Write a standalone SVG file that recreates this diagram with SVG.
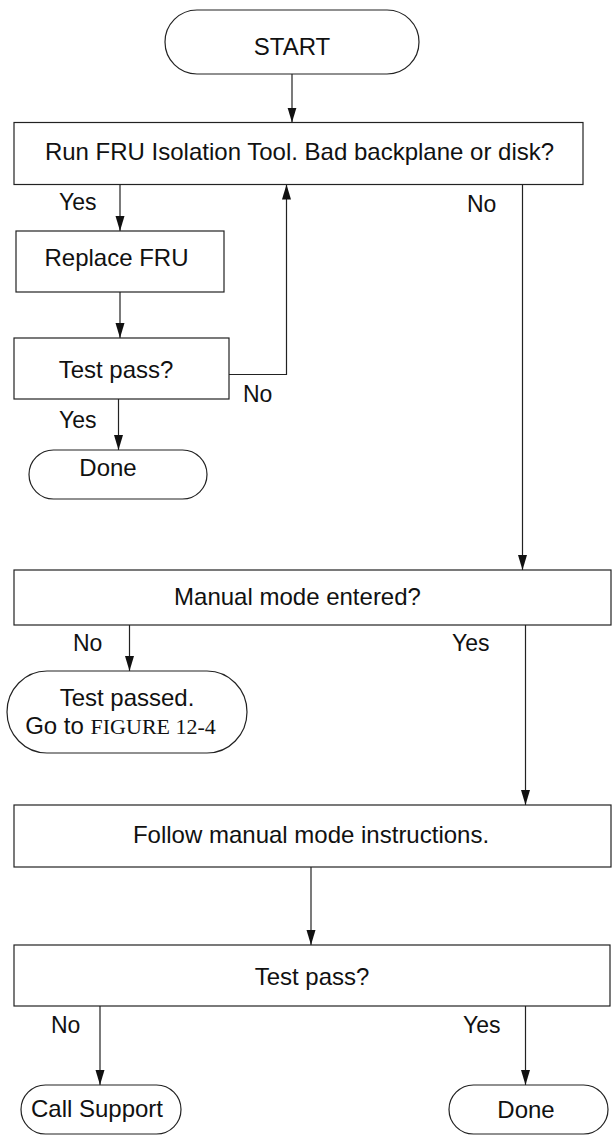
<svg xmlns="http://www.w3.org/2000/svg" width="613" height="1141" viewBox="0 0 613 1141">
  <style>
    .shape { fill: #ffffff; stroke: #222222; stroke-width: 1.2; }
    .txt { font-family: "Liberation Sans", Arial, sans-serif; font-size: 24px; fill: #111111; }
    .mid { text-anchor: middle; }
    .lbl { font-family: "Liberation Sans", Arial, sans-serif; font-size: 23px; fill: #111111; }
    .ref { font-family: "Liberation Serif", "Times New Roman", serif; font-size: 22px; }
    .conn { fill: none; stroke: #222222; stroke-width: 1.2; }
  </style>
  <defs>
    <marker id="arrow" markerUnits="userSpaceOnUse" markerWidth="15" markerHeight="10" refX="15" refY="4.5" orient="auto">
      <path d="M0,0 L15,4.5 L0,9 z" fill="#111111"/>
    </marker>
  </defs>

  <rect width="613" height="1141" fill="#ffffff"/>

  <!-- connectors -->
  <g id="connectors">
    <path class="conn" d="M292,74 V122.5" marker-end="url(#arrow)"/>
    <path class="conn" d="M120,184.5 V231" marker-end="url(#arrow)"/>
    <path class="conn" d="M120,292 V338" marker-end="url(#arrow)"/>
    <path class="conn" d="M118.5,399 V450" marker-end="url(#arrow)"/>
    <path class="conn" d="M229,374.5 H286.5 V184.5" marker-end="url(#arrow)"/>
    <path class="conn" d="M522.5,184.5 V570" marker-end="url(#arrow)"/>
    <path class="conn" d="M129.5,625 V671" marker-end="url(#arrow)"/>
    <path class="conn" d="M525.5,625 V805" marker-end="url(#arrow)"/>
    <path class="conn" d="M311,867 V945" marker-end="url(#arrow)"/>
    <path class="conn" d="M100,1006 V1085" marker-end="url(#arrow)"/>
    <path class="conn" d="M525.5,1006 V1085" marker-end="url(#arrow)"/>

    <text class="lbl" x="59" y="210">Yes</text>
    <text class="lbl" x="467" y="211.5">No</text>
    <text class="lbl" x="243" y="401.5">No</text>
    <text class="lbl" x="59" y="428">Yes</text>
    <text class="lbl" x="73" y="650.5">No</text>
    <text class="lbl" x="452" y="650.5">Yes</text>
    <text class="lbl" x="51" y="1033">No</text>
    <text class="lbl" x="463" y="1033">Yes</text>
  </g>

  <!-- nodes -->
  <g id="start">
    <rect class="shape" x="165" y="10" width="254" height="64" rx="32" ry="32"/>
    <text class="txt mid" x="292" y="55">START</text>
  </g>

  <g id="isolation">
    <rect class="shape" x="14" y="122.5" width="569" height="62"/>
    <text class="txt mid" x="299.5" y="160">Run FRU Isolation Tool. Bad backplane or disk?</text>
  </g>

  <g id="replace">
    <rect class="shape" x="16" y="231" width="208" height="61"/>
    <text class="txt mid" x="116.5" y="266">Replace FRU</text>
  </g>

  <g id="test1">
    <rect class="shape" x="14" y="338" width="215" height="61"/>
    <text class="txt mid" x="116" y="377.5">Test pass?</text>
  </g>

  <g id="done1">
    <rect class="shape" x="29" y="450" width="178" height="49" rx="24.5" ry="24.5"/>
    <text class="txt mid" x="108" y="476">Done</text>
  </g>

  <g id="manual">
    <rect class="shape" x="14" y="570" width="597" height="55"/>
    <text class="txt mid" x="297.5" y="604.5">Manual mode entered?</text>
  </g>

  <g id="passed">
    <rect class="shape" x="7" y="671" width="240" height="82" rx="40" ry="41"/>
    <text class="txt mid" x="127" y="706">Test passed.</text>
    <text class="txt mid" x="120.5" y="734" font-size="23">Go to <tspan class="ref">FIGURE 12-4</tspan></text>
  </g>

  <g id="follow">
    <rect class="shape" x="14" y="805" width="597" height="62"/>
    <text class="txt mid" x="311" y="843">Follow manual mode instructions.</text>
  </g>

  <g id="test2">
    <rect class="shape" x="14" y="945" width="596" height="61"/>
    <text class="txt mid" x="312" y="985">Test pass?</text>
  </g>

  <g id="support">
    <rect class="shape" x="21" y="1085" width="160" height="49" rx="24.5" ry="24.5"/>
    <text class="txt mid" x="97" y="1116.5">Call Support</text>
  </g>

  <g id="done2">
    <rect class="shape" x="449" y="1085" width="159" height="49" rx="24.5" ry="24.5"/>
    <text class="txt mid" x="526" y="1118">Done</text>
  </g>
</svg>
